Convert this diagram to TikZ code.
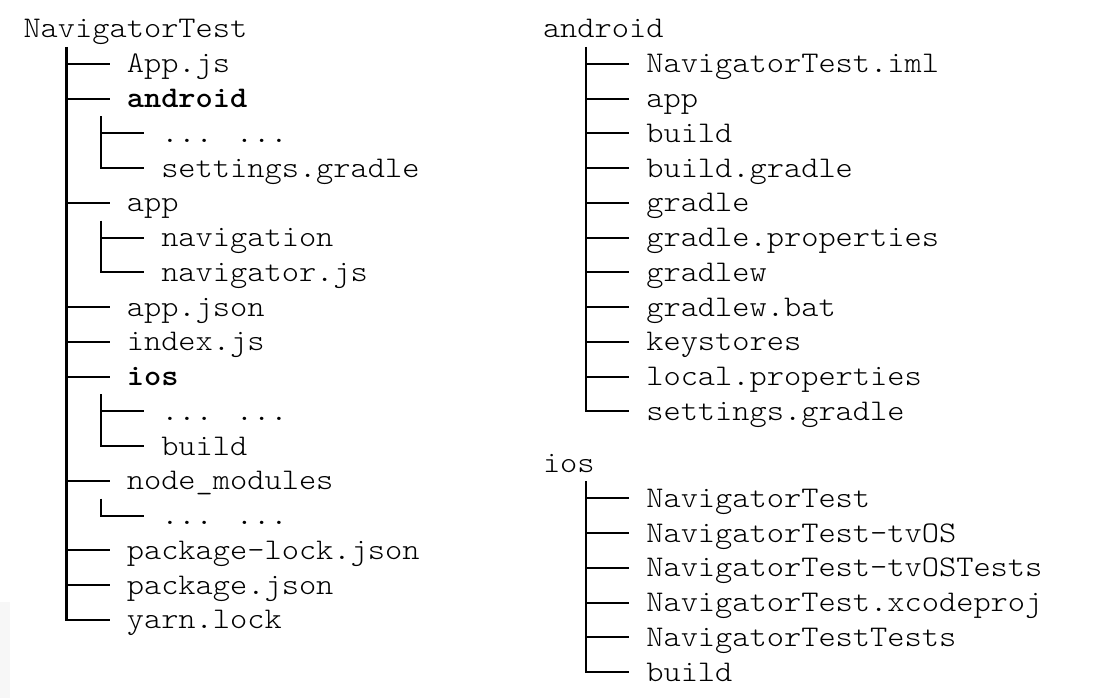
\documentclass[tikz,border=0pt]{standalone}
\usepackage{fontspec}
\newfontfamily\treefont{lmmonolt10-regular.otf}[BoldFont=lmmonolt10-bold.otf, FakeStretch=1.0933]
\usetikzlibrary{calc}
\tikzset{
  txt/.style={anchor=base west, inner sep=0pt, outer sep=0pt,
    font=\treefont\fontsize{30pt}{34.76pt}\selectfont},
  bold/.style={font=\treefont\bfseries\fontsize{30pt}{34.76pt}\selectfont},
  hline/.style={line width=2pt},
  vline/.style={line width=2.3pt}
}
\newcommand\rowy[1]{-38pt-34.76pt*#1}
% branch to one child
\newcommand\branch[1]{\draw[hline] ($(#1.base west)+(-60.27pt,9pt)$) -- ($(#1.base west)+(-17.22pt,9pt)$);}
% vertical stem from first to last child
\newcommand\stem[2]{\draw[vline] ($(#1.base west)+(-60.27pt,26pt)$) -- ($(#2.base west)+(-60.27pt,8pt)$);}
\begin{document}
\begin{tikzpicture}[x=1pt,y=1pt]
\useasboundingbox (0,0) rectangle (1094,-698);
\fill[white] (0,0) rectangle (1094,-698);
\fill[black!3] (0,-602) rectangle (10,-698);
% ---------- left tree ----------
\def\xa{23.5}
\node[txt] (L0) at (\xa, {\rowy{0}}) {NavigatorTest};
\node[txt] (L1) at (\xa+103.32, {\rowy{1}}) {App.js};
\node[txt,bold] (L2) at (\xa+103.32, {\rowy{2}}) {android};
\node[txt] (L3) at (\xa+137.76, {\rowy{3}}) {... ...};
\node[txt] (L4) at (\xa+137.76, {\rowy{4}}) {settings.gradle};
\node[txt] (L5) at (\xa+103.32, {\rowy{5}}) {app};
\node[txt] (L6) at (\xa+137.76, {\rowy{6}}) {navigation};
\node[txt] (L7) at (\xa+137.76, {\rowy{7}}) {navigator.js};
\node[txt] (L8) at (\xa+103.32, {\rowy{8}}) {app.json};
\node[txt] (L9) at (\xa+103.32, {\rowy{9}}) {index.js};
\node[txt,bold] (L10) at (\xa+103.32, {\rowy{10}}) {ios};
\node[txt] (L11) at (\xa+137.76, {\rowy{11}}) {... ...};
\node[txt] (L12) at (\xa+137.76, {\rowy{12}}) {build};
\node[txt] (L13) at (\xa+103.32, {\rowy{13}}) {node\_modules};
\node[txt] (L14) at (\xa+137.76, {\rowy{14}}) {... ...};
\node[txt] (L15) at (\xa+103.32, {\rowy{15}}) {package-lock.json};
\node[txt] (L16) at (\xa+103.32, {\rowy{16}}) {package.json};
\node[txt] (L17) at (\xa+103.32, {\rowy{17}}) {yarn.lock};
\stem{L1}{L17}
\foreach \n in {L1,L2,L5,L8,L9,L10,L13,L15,L16,L17} {\branch{\n}}
\stem{L3}{L4}
\foreach \n in {L3,L4} {\branch{\n}}
\stem{L6}{L7}
\foreach \n in {L6,L7} {\branch{\n}}
\stem{L11}{L12}
\foreach \n in {L11,L12} {\branch{\n}}
\stem{L14}{L14}
\branch{L14}
% ---------- right: android ----------
\def\xb{543}
\node[txt] (R0) at (\xb, {\rowy{0}}) {android};
\node[txt] (R1) at (\xb+103.32, {\rowy{1}}) {NavigatorTest.iml};
\node[txt] (R2) at (\xb+103.32, {\rowy{2}}) {app};
\node[txt] (R3) at (\xb+103.32, {\rowy{3}}) {build};
\node[txt] (R4) at (\xb+103.32, {\rowy{4}}) {build.gradle};
\node[txt] (R5) at (\xb+103.32, {\rowy{5}}) {gradle};
\node[txt] (R6) at (\xb+103.32, {\rowy{6}}) {gradle.properties};
\node[txt] (R7) at (\xb+103.32, {\rowy{7}}) {gradlew};
\node[txt] (R8) at (\xb+103.32, {\rowy{8}}) {gradlew.bat};
\node[txt] (R9) at (\xb+103.32, {\rowy{9}}) {keystores};
\node[txt] (R10) at (\xb+103.32, {\rowy{10}}) {local.properties};
\node[txt] (R11) at (\xb+103.32, {\rowy{11}}) {settings.gradle};
\stem{R1}{R11}
\foreach \n in {R1,R2,R3,R4,R5,R6,R7,R8,R9,R10,R11} {\branch{\n}}
% ---------- right: ios ----------
\node[txt] (I0) at (\xb, {\rowy{12.5}}) {ios};
\node[txt] (I1) at (\xb+103.32, {\rowy{13.5}}) {NavigatorTest};
\node[txt] (I2) at (\xb+103.32, {\rowy{14.5}}) {NavigatorTest-tvOS};
\node[txt] (I3) at (\xb+103.32, {\rowy{15.5}}) {NavigatorTest-tvOSTests};
\node[txt] (I4) at (\xb+103.32, {\rowy{16.5}}) {NavigatorTest.xcodeproj};
\node[txt] (I5) at (\xb+103.32, {\rowy{17.5}}) {NavigatorTestTests};
\node[txt] (I6) at (\xb+103.32, {\rowy{18.5}}) {build};
\stem{I1}{I6}
\foreach \n in {I1,I2,I3,I4,I5,I6} {\branch{\n}}
\end{tikzpicture}
\end{document}
